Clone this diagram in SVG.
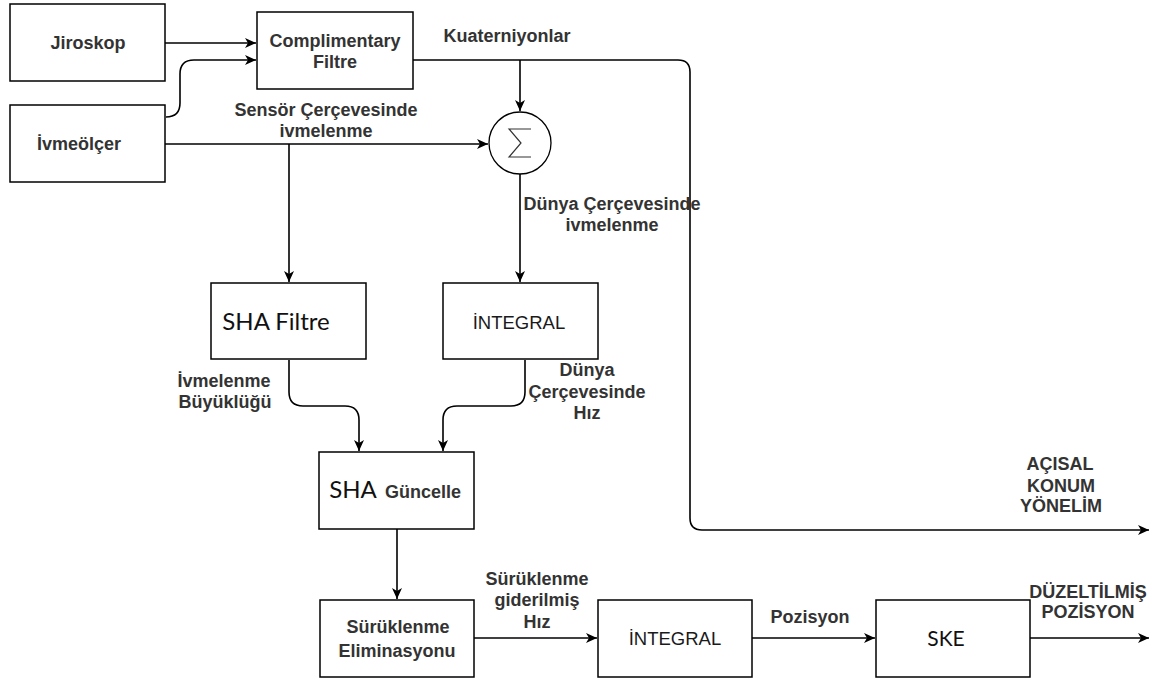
<svg xmlns="http://www.w3.org/2000/svg" width="1150" height="679" viewBox="0 0 1150 679">
<style>
.box{fill:#fff;stroke:#000;stroke-width:1.5}
.t{font-family:"Liberation Sans",Arial,sans-serif;font-size:18px;font-weight:bold;fill:#333;text-anchor:middle}
.tr{font-family:"Liberation Sans",Arial,sans-serif;font-size:18.5px;fill:#1a1a1a;text-anchor:middle}
.c{font-family:Lato,"Open Sans",sans-serif;font-size:24px;fill:#111;text-anchor:middle}
.e{fill:none;stroke:#000;stroke-width:1.6}
</style>
<defs>
<marker id="a" markerUnits="userSpaceOnUse" markerWidth="12" markerHeight="10" refX="11" refY="5" orient="auto">
<path d="M0,0 L11,5 L0,10 L3,5 z" fill="#000"/>
</marker>
</defs>
<rect width="1150" height="679" fill="#fff"/>
<g id="connectors">
<path class="e" d="M165,43 H256" marker-end="url(#a)"/>
<path class="e" d="M166,117 Q180,117 180,103 V74 Q180,60 194,60 H256" marker-end="url(#a)"/>
<path class="e" d="M165,144 H488" marker-end="url(#a)"/>
<path class="e" d="M289,144 V282" marker-end="url(#a)"/>
<path class="e" d="M413,60 H678 Q690,60 690,72 V518 Q690,530 702,530 H1149" marker-end="url(#a)"/>
<path class="e" d="M520,60 V111" marker-end="url(#a)"/>
<path class="e" d="M520,174 V282" marker-end="url(#a)"/>
<path class="e" d="M289,360 V392 Q289,406 303,406 H345 Q359,406 359,420 V451" marker-end="url(#a)"/>
<path class="e" d="M525,360 V392 Q525,406 511,406 H457 Q443,406 443,420 V451" marker-end="url(#a)"/>
<path class="e" d="M397,529 V599" marker-end="url(#a)"/>
<path class="e" d="M474,638 H597" marker-end="url(#a)"/>
<path class="e" d="M752,638 H875" marker-end="url(#a)"/>
<path class="e" d="M1030,638 H1149" marker-end="url(#a)"/>
</g>
<g id="labels">
<text class="t" x="326" y="116">Sensör Çerçevesinde</text>
<text class="t" x="326" y="137">ivmelenme</text>
<text class="t" x="507" y="42">Kuaterniyonlar</text>
<text class="t" x="612" y="210">Dünya Çerçevesinde</text>
<text class="t" x="612" y="231">ivmelenme</text>
<text class="t" x="224" y="387">İvmelenme</text>
<text class="t" x="225" y="408">Büyüklüğü</text>
<text class="t" x="587" y="376">Dünya</text>
<text class="t" x="587" y="398">Çerçevesinde</text>
<text class="t" x="587" y="419">Hız</text>
<text class="t" x="537" y="585">Sürüklenme</text>
<text class="t" x="537" y="606">giderilmiş</text>
<text class="t" x="537" y="628">Hız</text>
<text class="t" x="810" y="623">Pozisyon</text>
<text class="t" x="1088" y="598">DÜZELTİLMİŞ</text>
<text class="t" x="1088" y="618">POZİSYON</text>
<text class="t" x="1060" y="470">AÇISAL</text>
<text class="t" x="1061" y="492">KONUM</text>
<text class="t" x="1061" y="512">YÖNELİM</text>
</g>
<g id="jiroskop"><rect class="box" x="10" y="4" width="155" height="77"/><text class="t" x="88" y="49">Jiroskop</text></g>
<g id="complimentary"><rect class="box" x="257" y="12" width="156" height="77"/><text class="t" x="335" y="47">Complimentary</text><text class="t" x="335" y="68">Filtre</text></g>
<g id="ivmeolcer"><rect class="box" x="10" y="105" width="155" height="77"/><text class="t" x="79" y="150">İvmeölçer</text></g>
<g id="sigma"><circle cx="520" cy="143" r="31" fill="#fff" stroke="#000" stroke-width="1.3"/><path d="M531,129 H509 L521,143 L509,157 H531" fill="none" stroke="#333" stroke-width="1.2"/></g>
<g id="shafiltre"><rect class="box" x="211" y="283" width="155" height="76"/><text class="c" x="276" y="330">SHA Filtre</text></g>
<g id="integral1"><rect class="box" x="443" y="283" width="155" height="76"/><text class="tr" x="519" y="329">İNTEGRAL</text></g>
<g id="shaguncelle"><rect class="box" x="319" y="452" width="155" height="77"/><text class="c" x="353" y="498">SHA</text><text class="t" x="423" y="498">Güncelle</text></g>
<g id="suruklenme"><rect class="box" x="320" y="600" width="154" height="77"/><text class="t" x="398" y="633">Sürüklenme</text><text class="t" x="397" y="657">Eliminasyonu</text></g>
<g id="integral2"><rect class="box" x="598" y="600" width="154" height="77"/><text class="tr" x="675" y="645">İNTEGRAL</text></g>
<g id="ske"><rect class="box" x="876" y="600" width="154" height="77"/><text class="c" x="946" y="646" style="font-size:21px">SKE</text></g>
</svg>
